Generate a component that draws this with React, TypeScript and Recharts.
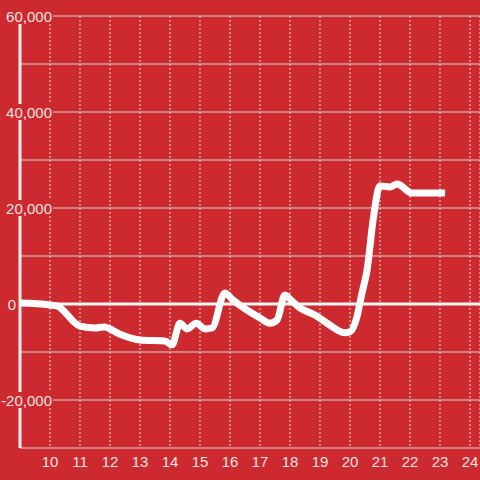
import React from 'react';
import { ComposedChart, Line, XAxis, YAxis, CartesianGrid, ReferenceLine } from 'recharts';

const xValues = [9.0, 10.0, 10.23, 11.0, 11.5, 11.8, 12.33, 13.0, 13.83, 14.07, 14.33, 14.57, 14.87, 15.17, 15.4, 15.83, 16.07, 17.0, 17.33, 17.57, 17.83, 18.0, 18.33, 18.83, 19.33, 19.83, 20.0, 20.23, 20.4, 20.57, 20.77, 21.0, 21.33, 21.57, 22.07, 23.17];
const yValues = [200, -200, -400, -4600, -5000, -4800, -6300, -7500, -7700, -8500, -4000, -5200, -4000, -5200, -5000, 2300, 1000, -2900, -4000, -3300, 1900, 1000, -800, -2300, -4400, -6000, -5800, -2700, 2300, 7100, 17500, 24600, 24400, 25000, 23100, 23100];
const xTicks = [10, 11, 12, 13, 14, 15, 16, 17, 18, 19, 20, 21, 22, 23, 24];
const yTicks = [-30000, -20000, -10000, 0, 10000, 20000, 30000, 40000, 50000, 60000];
const yLabelled = [-20000, 0, 20000, 40000, 60000];

const data = xValues.map((x, i) => ({ x, y: yValues[i] }));

const BG = '#cd2a2f';
const TEXT = '#f5e2e2';
const GRID = '#d8d8d8';

const YTick = (props: any) => {
  const { x, y, payload } = props;
  const v = payload.value;
  if (!yLabelled.includes(v)) return <g />;
  const label = v.toLocaleString('en-US');
  if (v === 0) {
    return (
      <text x={x + 4} y={y} textAnchor="end" dominantBaseline="central" fill={TEXT} fontSize={15} fontFamily="Liberation Sans, Arial, sans-serif">
        {label}
      </text>
    );
  }
  return (
    <g>
      <rect x={x - 10} y={y - 8} width={51} height={16} fill={BG} />
      <text x={x + 40} y={y} textAnchor="end" dominantBaseline="central" fill={TEXT} fontSize={15} fontFamily="Liberation Sans, Arial, sans-serif">
        {label}
      </text>
    </g>
  );
};

export default function App() {
  return (
    <div style={{ position: 'absolute', left: 0, top: 0, width: 480, height: 480, background: BG }}>
      <ComposedChart width={480} height={480} data={data} margin={{ top: 16, right: 0, bottom: 0, left: 0 }}>
        <CartesianGrid vertical={false} stroke={GRID} strokeWidth={1} />
        <CartesianGrid horizontal={false} stroke={GRID} strokeDasharray="2 2" strokeWidth={1} />
        <XAxis
          dataKey="x"
          type="number"
          domain={[9, 24.3333]}
          ticks={xTicks}
          allowDataOverflow
          axisLine={false}
          tickLine={false}
          tickSize={6}
          tickMargin={2}
          height={32}
          tick={{ fill: TEXT, fontSize: 15, fontFamily: 'Liberation Sans, Arial, sans-serif' }}
        />
        <YAxis
          type="number"
          domain={[-30000, 60000]}
          ticks={yTicks}
          width={20}
          axisLine={{ stroke: '#eeeeee', strokeWidth: 3 }}
          tickLine={false}
          tickSize={6}
          tickMargin={2}
          tick={<YTick />}
          interval={0}
        />
        <ReferenceLine y={0} stroke="#f5f5f5" strokeWidth={3} />
        <Line type="monotone" dataKey="y" stroke="#ffffff" strokeWidth={7} dot={false} isAnimationActive={false} strokeLinejoin="round" />
      </ComposedChart>
    </div>
  );
}
